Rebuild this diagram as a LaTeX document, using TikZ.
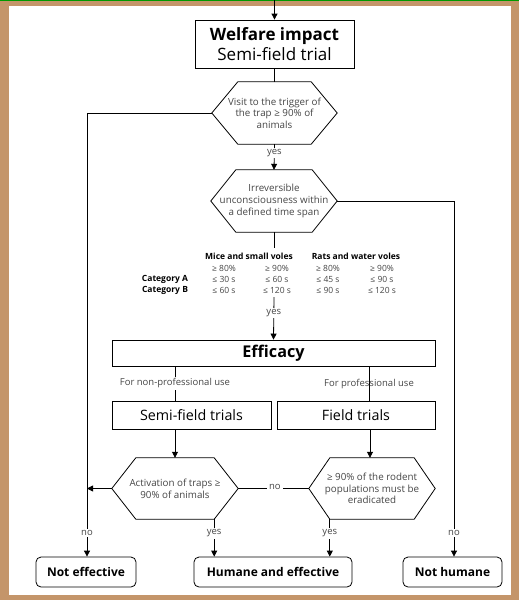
\documentclass[tikz,border=0pt]{standalone}
\usepackage{fontspec}
\setmainfont{Open Sans}
\usetikzlibrary{arrows.meta,calc}
\definecolor{frameb}{RGB}{196,149,106}
\definecolor{txtg}{RGB}{70,70,70}
\newcommand\hexdraw[2]{\draw[line] (#1.west) -- ([xshift=#2]#1.north west) -- ([xshift=-#2]#1.north east) -- (#1.east) -- ([xshift=-#2]#1.south east) -- ([xshift=#2]#1.south west) -- cycle;}
\begin{document}
\begin{tikzpicture}[x=1pt,y=-1pt,
  line/.style={line width=0.8pt,draw=black},
  arr/.style={line,-{Triangle[length=6pt,width=6pt]}},
  box/.style={draw,line width=0.8pt,inner sep=0pt,align=center},
  endbox/.style={box,rounded corners=5pt,font=\fontsize{12}{14}\selectfont\bfseries},
  hexa/.style={inner sep=0pt,align=center,text=txtg,font=\fontsize{9.8}{11.6}\selectfont},
  lab/.style={inner sep=1.5pt,text=txtg,font=\fontsize{9.5}{11}\selectfont},
  tab/.style={inner sep=0pt,text=txtg,font=\fontsize{8.5}{10}\selectfont},
  tabb/.style={inner sep=0pt,text=black,font=\fontsize{8.5}{10}\selectfont\bfseries}]
\useasboundingbox (0,0) rectangle (519,600);
% frame
\fill[frameb] (0,0) rectangle (519,600);
\fill[white] (9,6) rectangle (511,595);
\draw[green!60!black,line width=0.8pt] (0,0.4) -- (519,0.4);
% nodes
\coordinate (top) at (274.5,0);
\node[box,minimum width=159pt,minimum height=48pt,font=\fontsize{17}{20}\selectfont] (wel) at (274.5,44) {\textbf{Welfare impact}\\Semi-field trial};
\node[hexa,minimum width=125pt,minimum height=62pt] (h1) at (274.5,113) {Visit to the trigger of\\the trap ≥ 90\% of\\animals};
\hexdraw{h1}{26pt}
\node[hexa,minimum width=126pt,minimum height=62pt] (h2) at (274,201) {Irreversible\\unconsciousness within\\a defined time span};
\hexdraw{h2}{25pt}
% table
\node[tabb] (mh) at (249,256) {Mice and small voles};
\node[tabb] (rh) at (356,256) {Rats and water voles};
\node[tabb] (ca) at (165,279) {Category A};
\node[tabb] (cb) at (165,290) {Category B};
\node[tab] (p1) at (224,268) {≥ 80\%};
\node[tab] (p2) at (277,268) {≥ 90\%};
\node[tab] (p3) at (328,268) {≥ 80\%};
\node[tab] (p4) at (382,268) {≥ 90\%};
\node[tab] (a1) at (224,279) {≤ 30 s};
\node[tab] (a2) at (277,279) {≤ 60 s};
\node[tab] (a3) at (328,279) {≤ 45 s};
\node[tab] (a4) at (382,279) {≤ 90 s};
\node[tab] (b1) at (224,290) {≤ 60 s};
\node[tab] (b2) at (277,290) {≤ 120 s};
\node[tab] (b3) at (328,290) {≤ 90 s};
\node[tab] (b4) at (382,290) {≤ 120 s};
\coordinate (t1) at (274,248);
\coordinate (t2) at (274,297);
\node[box,minimum width=323pt,minimum height=26pt,font=\fontsize{16.2}{19}\selectfont\bfseries] (eff) at (273.5,353) {Efficacy};
\node[box,minimum width=159pt,minimum height=28pt,font=\fontsize{14.3}{17}\selectfont] (semi) at (191.5,415) {Semi-field trials};
\node[box,minimum width=158pt,minimum height=28pt,font=\fontsize{14.3}{17}\selectfont] (field) at (356,415) {Field trials};
\node[hexa,minimum width=126pt,minimum height=61pt] (h3) at (175,488.5) {Activation of traps ≥\\90\% of animals};
\hexdraw{h3}{24pt}
\node[hexa,minimum width=126pt,minimum height=61pt] (h4) at (372,488.5) {≥ 90\% of the rodent\\populations must be\\eradicated};
\hexdraw{h4}{21pt}
\node[endbox,minimum width=100pt,minimum height=30pt] (ne) at (86,572) {Not effective};
\node[endbox,minimum width=158pt,minimum height=30pt] (he) at (273,572) {Humane and effective};
\node[endbox,minimum width=99pt,minimum height=30pt] (nh) at (452.5,572) {Not humane};
% connectors
\draw[arr] (top) -- (wel.north);
\draw[line] (wel.south) -- (h1.north);
\draw[arr] (h1.south) -- node[lab,fill=white,pos=0.35] {yes} (h2.north);
\draw[line] (h1.west) -- (87,113) coordinate (c1);
\draw[arr] (c1) -- node[lab,fill=white,pos=0.946] {no} (c1 |- ne.north);
\draw[line] (h2.east) -- (454,201) coordinate (c2);
\draw[arr] (c2) -- node[lab,fill=white,pos=0.933] {no} (c2 |- nh.north);
\draw[line] (h2.south) -- (t1);
\draw[arr] (t2) -- node[lab,fill=white,pos=0.37] {yes} (eff.north);
\draw[line] (eff.south -| 175,0) -- node[lab,fill=white,pos=0.5] {For non-professional use} (semi.north -| 175,0);
\draw[line] (eff.south -| 369,0) -- node[lab,pos=0.52] {For professional use} (field.north -| 369,0);
\draw[arr] (semi.south -| h3.north) -- (h3.north);
\draw[arr] (field.south -| 370,0) -- (h4.north -| 370,0);
\draw[arr] (h3.west) -- (c1 |- h3.west);
\draw[line] (h3.east) -- node[lab,fill=white,pos=0.52,yshift=2pt,inner sep=2.5pt] {no} (h4.west);
\draw[arr] ([xshift=-24pt]h3.south east) -- node[lab,fill=white,pos=0.38] {yes} ([xshift=-24pt]h3.south east |- he.north);
\draw[arr] ([xshift=21pt]h4.south west) -- node[lab,fill=white,pos=0.38] {yes} ([xshift=21pt]h4.south west |- he.north);
\end{tikzpicture}
\end{document}
